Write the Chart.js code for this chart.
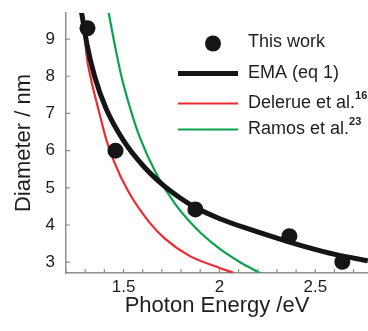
<!DOCTYPE html>
<html>
<head>
<meta charset="utf-8">
<script src="https://cdn.jsdelivr.net/npm/chart.js@4/dist/chart.umd.min.js"></script>
<style>
  body { margin: 0; background: #fff; }
</style>
</head>
<body>
<canvas id="grafico" width="368" height="331"></canvas>
<script>
// puntos medidos
const puntosEnergia = [1.312, 1.458, 1.875, 2.365, 2.641];
const puntosDiametro = [9.29, 6.00, 4.42, 3.70, 3.01];

// EMA (eq 1)
const emaEnergia = [1.280, 1.309, 1.349, 1.410, 1.500, 1.601, 1.696, 1.792, 1.875, 2.002, 2.160, 2.316, 2.446, 2.603, 2.774];
const emaDiametro = [9.75, 8.87, 8.00, 7.12, 6.27, 5.60, 5.12, 4.74, 4.47, 4.17, 3.88, 3.62, 3.42, 3.21, 3.04];

// Delerue et al.
const delerueEnergia = [1.283, 1.290, 1.309, 1.327, 1.372, 1.410, 1.448, 1.523, 1.635, 1.714, 1.844, 2.005, 2.070];
const delerueDiametro = [9.75, 9.50, 8.50, 8.00, 7.05, 6.30, 5.74, 4.92, 4.07, 3.64, 3.17, 2.84, 2.72];

// Ramos et al.
const ramosEnergia = [1.422, 1.453, 1.488, 1.540, 1.587, 1.670, 1.770, 1.840, 1.900, 2.004, 2.108, 2.212];
const ramosDiametro = [9.72, 8.88, 8.02, 7.05, 6.33, 5.39, 4.56, 4.12, 3.80, 3.35, 3.00, 2.71];

const etiquetasX = [1.5, 2, 2.5];
const etiquetasY = [3, 4, 5, 6, 7, 8, 9];
const nombres = ['This work', 'EMA (eq 1)', 'Delerue et al.', 'Ramos et al.'];
const superindices = ['', '', '16', '23'];

const fuente = '"Liberation Sans", Arial, Helvetica, sans-serif';
const gris = '#8e8e8e';
const colores = ['#151515', '#151515', '#ec2a30', '#0ba24c'];

const pares = (xs, ys) => xs.map((x, i) => ({ x: x, y: ys[i] }));

const curva = (nombre, xs, ys, color, ancho) => {
    return {
        label: nombre,
        data: pares(xs, ys),
        showLine: true,
        borderColor: color,
        borderWidth: ancho,
        pointRadius: 0,
        cubicInterpolationMode: 'monotone'
    }
}

// marcas hacia dentro en los ejes
const marcas = {
    id: 'marcas',
    afterDatasetsDraw(chart) {
        const ctx = chart.ctx;
        const area = chart.chartArea;
        ctx.save();
        ctx.strokeStyle = gris;
        ctx.lineWidth = 1.2;
        ctx.beginPath();
        chart.scales.x.ticks.forEach(t => {
            const px = chart.scales.x.getPixelForValue(t.value);
            ctx.moveTo(px, area.bottom);
            ctx.lineTo(px, area.bottom - 4);
        });
        chart.scales.y.ticks.forEach(t => {
            const py = chart.scales.y.getPixelForValue(t.value);
            ctx.moveTo(area.left, py);
            ctx.lineTo(area.left + 4, py);
        });
        ctx.stroke();
        ctx.restore();
    }
};

const leyenda = {
    id: 'leyenda',
    afterDraw(chart) {
        const ctx = chart.ctx;
        const area = chart.chartArea;
        const filas = [area.top + 29, area.top + 60.5, area.top + 90.5, area.top + 116.5];
        const inicio = area.left + 112;
        const fin = area.left + 172;
        const texto = area.left + 182;
        ctx.save();
        filas.forEach((y, i) => {
            if (i === 0) {
                ctx.fillStyle = colores[0];
                ctx.beginPath();
                ctx.arc(area.left + 147, y + 1.5, 8, 0, Math.PI * 2);
                ctx.fill();
            } else {
                ctx.strokeStyle = colores[i];
                ctx.lineWidth = i === 1 ? 5 : 2.2;
                ctx.beginPath();
                ctx.moveTo(inicio, y);
                ctx.lineTo(fin, y);
                ctx.stroke();
            }
            ctx.fillStyle = '#1e1e1e';
            ctx.font = '18px ' + fuente;
            ctx.textBaseline = 'middle';
            ctx.fillText(nombres[i], texto, y);
            if (superindices[i]) {
                const w = ctx.measureText(nombres[i]).width;
                ctx.font = 'bold 11px ' + fuente;
                ctx.fillText(superindices[i], texto + w, y - 8);
            }
        });
        ctx.restore();
    }
};

new Chart(document.getElementById('grafico'), {
    type: 'scatter',
    data: {
        datasets: [
            {
                label: nombres[0],
                data: pares(puntosEnergia, puntosDiametro),
                pointRadius: 8,
                pointHoverRadius: 8,
                pointBackgroundColor: colores[0],
                pointBorderColor: colores[0],
                pointBorderWidth: 0
            },
            curva(nombres[1], emaEnergia, emaDiametro, colores[1], 5),
            curva(nombres[2], delerueEnergia, delerueDiametro, colores[2], 2.2),
            curva(nombres[3], ramosEnergia, ramosDiametro, colores[3], 2.2)
        ]
    },
    options: {
        responsive: false,
        animation: false,
        layout: { autoPadding: false, padding: { top: 13, right: 0, left: 11, bottom: 12 } },
        plugins: { legend: { display: false }, tooltip: { enabled: false } },
        scales: {
            x: {
                type: 'linear',
                min: 1.2,
                max: 2.775,
                afterFit: (scale) => {
                    scale.height = 46;
                    scale.paddingLeft = 0;
                    scale.paddingRight = 0;
                },
                border: { color: gris, width: 1.5 },
                grid: { drawOnChartArea: false, drawTicks: false },
                ticks: {
                    stepSize: 0.1,
                    includeBounds: false,
                    autoSkip: false,
                    maxRotation: 0,
                    padding: 4,
                    color: '#1e1e1e',
                    font: { family: fuente, size: 17 },
                    callback: (v) => {
                        const r = Math.round(v * 10) / 10;
                        return etiquetasX.includes(r) ? String(r) : '';
                    }
                },
                title: {
                    display: true,
                    text: 'Photon Energy /eV',
                    color: '#1e1e1e',
                    font: { family: fuente, size: 22 },
                    padding: { top: 0, bottom: 0 }
                }
            },
            y: {
                min: 2.71,
                max: 9.70,
                afterFit: (scale) => {
                    scale.width = 55;
                    scale.paddingTop = 0;
                    scale.paddingBottom = 0;
                },
                border: { color: gris, width: 1.5 },
                grid: { drawOnChartArea: false, drawTicks: false },
                ticks: {
                    stepSize: 1,
                    includeBounds: false,
                    padding: 11,
                    color: '#1e1e1e',
                    font: { family: fuente, size: 17 },
                    callback: (v) => etiquetasY.includes(v) ? String(v) : ''
                },
                title: {
                    display: true,
                    text: 'Diameter / nm',
                    color: '#1e1e1e',
                    font: { family: fuente, size: 22 },
                    padding: { top: 0, bottom: 0 }
                }
            }
        }
    },
    plugins: [marcas, leyenda]
});
</script>
</body>
</html>
